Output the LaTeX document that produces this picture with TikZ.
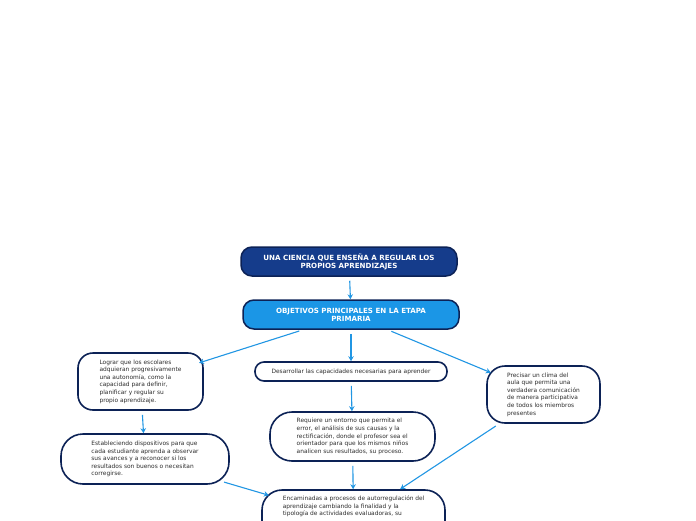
\documentclass[tikz,border=0pt]{standalone}
\usepackage{fontspec}
\setmainfont{DejaVu Sans}
\usetikzlibrary{arrows.meta}
\definecolor{mainBlue}{HTML}{153C8B}
\definecolor{subBlue}{HTML}{1B96E6}
\definecolor{navyEdge}{HTML}{0C2256}
\definecolor{linkBlue}{HTML}{2196E3}
\definecolor{bodyText}{HTML}{2E2E2E}
\tikzset{
    titleBox/.style={draw=navyEdge, line width=1.5pt, rounded corners=11pt, inner sep=0pt,
        text=white, align=center, font={\fontsize{7.1}{8}\selectfont\bfseries}},
    ideaBox/.style={draw=navyEdge, line width=1.6pt, fill=white, inner sep=0pt,
        text=bodyText, align=left, font={\fontsize{5.9}{7.6}\selectfont}},
    link/.style={linkBlue, line width=1.1pt, -{Stealth[length=5pt,width=5.5pt]}, shorten <=4pt}
}

\begin{document}
\begin{tikzpicture}[x=1pt,y=-1pt]
    \clip (0,0) rectangle (696,520);
    \useasboundingbox (0,0) rectangle (696,520);
    % top row
    \node[titleBox, fill=mainBlue, minimum width=216pt, minimum height=29pt] (ciencia) at (349,261.5)
        {UNA CIENCIA QUE ENSEÑA A REGULAR LOS\\PROPIOS APRENDIZAJES};
    \node[titleBox, fill=subBlue, minimum width=216pt, minimum height=29pt] (objetivos) at (351,314.5)
        {OBJETIVOS PRINCIPALES EN LA ETAPA\\PRIMARIA};
    % objectives
    \node[ideaBox, rounded corners=15pt, minimum width=125pt, minimum height=57pt] (lograr) at (140.5,381.5)
        {Lograr que los escolares\\adquieran progresivamente\\una autonomía, como la\\capacidad para definir,\\planificar y regular su\\propio aprendizaje.};
    \node[ideaBox, rounded corners=9pt, minimum width=192pt, minimum height=19pt] (desarrollar) at (351,371.5)
        {Desarrollar las capacidades necesarias para aprender};
    \node[ideaBox, rounded corners=18pt, minimum width=113pt, minimum height=57pt] (precisar) at (543.5,394.5)
        {Precisar un clima del\\aula que permita una\\verdadera comunicación\\de manera participativa\\de todos los miembros\\presentes};
    \node[ideaBox, rounded corners=22pt, minimum width=168pt, minimum height=50pt] (estableciendo) at (145,459)
        {Estableciendo dispositivos para que\\cada estudiante aprenda a observar\\sus avances y a reconocer si los\\resultados son buenos o necesitan\\corregirse.};
    \node[ideaBox, rounded corners=22pt, minimum width=165pt, minimum height=49pt] (requiere) at (352.5,436.5)
        {Requiere un entorno que permita el\\error, el análisis de sus causas y la\\rectificación, donde el profesor sea el\\orientador para que los mismos niños\\analicen sus resultados, su proceso.};
    \node[ideaBox, rounded corners=20pt, minimum width=183pt, minimum height=60pt] (encaminadas) at (353.5,520) {};
    \node[ideaBox, draw=none, fill=none, anchor=north west] (encaminadasText) at (282,495)
        {Encaminadas a procesos de autorregulación del\\aprendizaje cambiando la finalidad y la\\tipología de actividades evaluadoras, su};
    % links
    \draw[link] (ciencia) -- (objetivos);
    \draw[link, shorten >=-5pt] (objetivos) -- (lograr);
    \draw[link] (objetivos) -- (desarrollar);
    \draw[link, shorten >=-5pt] (objetivos) -- (precisar);
    \draw[link] (lograr) -- (estableciendo);
    \draw[link] (desarrollar) -- (requiere);
    \draw[link] (requiere) -- (encaminadas);
    \draw[link] (precisar) -- (encaminadas);
    \draw[link, shorten <=-6pt, shorten >=-8pt] (estableciendo) -- (encaminadas);
\end{tikzpicture}
\end{document}
